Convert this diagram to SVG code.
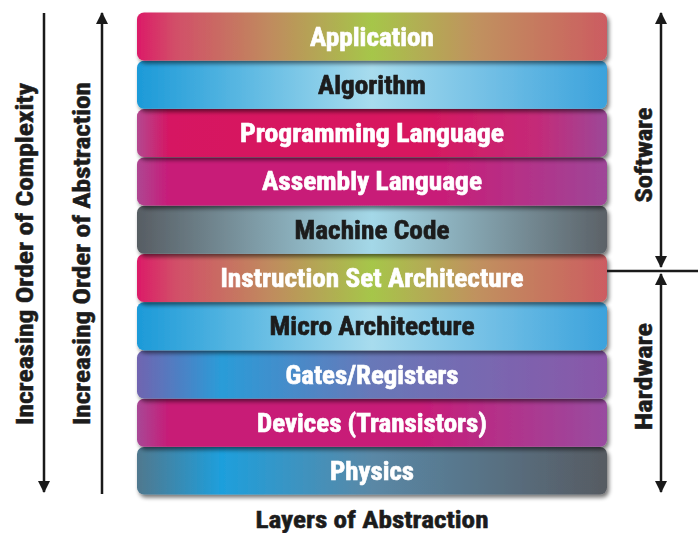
<svg xmlns="http://www.w3.org/2000/svg" width="700" height="533" viewBox="0 0 700 533">
<defs>
<style>
.lbl{font-family:"Liberation Sans Narrow","Roboto Condensed","Liberation Sans",Arial,sans-serif;font-weight:bold;font-size:25px;text-anchor:middle;stroke-width:0.6}
.w{fill:#ffffff;stroke:#ffffff}
.k{fill:#1c1c1c;stroke:#1c1c1c}
.side{font-family:"Liberation Sans Narrow","Roboto Condensed","Liberation Sans",Arial,sans-serif;font-weight:bold;font-size:23px;fill:#1c1c1c;stroke:#1c1c1c;stroke-width:0.5;text-anchor:middle}
.ln{stroke:#1a1a1a;stroke-width:2.5;fill:none}
.box{filter:url(#sh)}
</style>
<filter id="sh" x="-5%" y="-20%" width="110%" height="150%">
<feGaussianBlur in="SourceAlpha" stdDeviation="2.2"/>
<feOffset dx="2" dy="2.5" result="b"/>
<feComponentTransfer><feFuncA type="linear" slope="0.55"/></feComponentTransfer>
<feMerge><feMergeNode/><feMergeNode in="SourceGraphic"/></feMerge>
</filter>
<marker id="ah" markerUnits="userSpaceOnUse" markerWidth="12" markerHeight="14" refX="11" refY="6" orient="auto-start-reverse" viewBox="0 0 12 12">
<path d="M0,0 L12,6 L0,12 Z" fill="#1a1a1a"/>
</marker>
<linearGradient id="gApp" x1="0" y1="0" x2="1" y2="0">
<stop offset="0" stop-color="#dc1a68"/>
<stop offset="0.08" stop-color="#d24e68"/>
<stop offset="0.28" stop-color="#c08a5e"/>
<stop offset="0.5" stop-color="#a6c64a"/>
<stop offset="0.72" stop-color="#c0925e"/>
<stop offset="0.9" stop-color="#c8705f"/>
<stop offset="1" stop-color="#cc5c62"/>
</linearGradient>
<linearGradient id="gAlg" x1="0" y1="0" x2="1" y2="0">
<stop offset="0" stop-color="#1c9ad8"/>
<stop offset="0.5" stop-color="#a8dcee"/>
<stop offset="1" stop-color="#3ba2dc"/>
</linearGradient>
<linearGradient id="gMac" x1="0" y1="0" x2="1" y2="0">
<stop offset="0" stop-color="#575d63"/>
<stop offset="0.5" stop-color="#a4d8e8"/>
<stop offset="1" stop-color="#5b6167"/>
</linearGradient>
<linearGradient id="gPro" x1="0" y1="0" x2="1" y2="0">
<stop offset="0" stop-color="#b44890"/>
<stop offset="0.07" stop-color="#d61462"/>
<stop offset="0.6" stop-color="#d8165e"/>
<stop offset="0.85" stop-color="#c42a78"/>
<stop offset="1" stop-color="#9c4898"/>
</linearGradient>
<linearGradient id="gAsm" x1="0" y1="0" x2="1" y2="0">
<stop offset="0" stop-color="#ae4692"/>
<stop offset="0.07" stop-color="#c81a78"/>
<stop offset="0.65" stop-color="#c81e78"/>
<stop offset="1" stop-color="#9e4698"/>
</linearGradient>
<linearGradient id="gDev" x1="0" y1="0" x2="1" y2="0">
<stop offset="0" stop-color="#a84896"/>
<stop offset="0.07" stop-color="#c81a76"/>
<stop offset="0.6" stop-color="#c81c78"/>
<stop offset="1" stop-color="#984ca0"/>
</linearGradient>
<linearGradient id="gGat" x1="0" y1="0" x2="1" y2="0">
<stop offset="0" stop-color="#7064b0"/>
<stop offset="0.18" stop-color="#2a9cd8"/>
<stop offset="0.5" stop-color="#6878b8"/>
<stop offset="1" stop-color="#8a56a8"/>
</linearGradient>
<linearGradient id="gPhy" x1="0" y1="0" x2="1" y2="0">
<stop offset="0" stop-color="#50788e"/>
<stop offset="0.18" stop-color="#1e9fdc"/>
<stop offset="0.5" stop-color="#5a88a6"/>
<stop offset="1" stop-color="#575b62"/>
</linearGradient>
</defs>
<rect width="700" height="533" fill="#ffffff"/>

<g id="layer-physics" class="box"><rect x="137" y="447" width="470" height="47.5" rx="7" fill="url(#gPhy)"/><text class="lbl w" x="372" y="479.5" textLength="84" lengthAdjust="spacingAndGlyphs">Physics</text></g>
<g id="layer-devices" class="box"><rect x="137" y="398.8" width="470" height="48" rx="7" fill="url(#gDev)"/><text class="lbl w" x="372" y="431.5" textLength="230" lengthAdjust="spacingAndGlyphs">Devices (Transistors)</text></g>
<g id="layer-gates" class="box"><rect x="137" y="350.6" width="470" height="48" rx="7" fill="url(#gGat)"/><text class="lbl w" x="372" y="383.5" textLength="173" lengthAdjust="spacingAndGlyphs">Gates/Registers</text></g>
<g id="layer-micro" class="box"><rect x="137" y="302.3" width="470" height="48" rx="7" fill="url(#gAlg)"/><text class="lbl k" x="372" y="335" textLength="205" lengthAdjust="spacingAndGlyphs">Micro Architecture</text></g>
<g id="layer-isa" class="box"><rect x="137" y="254" width="470" height="48" rx="7" fill="url(#gApp)"/><text class="lbl w" x="372" y="287" textLength="303" lengthAdjust="spacingAndGlyphs">Instruction Set Architecture</text></g>
<g id="layer-machine" class="box"><rect x="137" y="205.7" width="470" height="48" rx="7" fill="url(#gMac)"/><text class="lbl k" x="372" y="238.5" textLength="155" lengthAdjust="spacingAndGlyphs">Machine Code</text></g>
<g id="layer-assembly" class="box"><rect x="137" y="157.4" width="470" height="48" rx="7" fill="url(#gAsm)"/><text class="lbl w" x="372" y="190" textLength="220" lengthAdjust="spacingAndGlyphs">Assembly Language</text></g>
<g id="layer-programming" class="box"><rect x="137" y="109.1" width="470" height="48" rx="7" fill="url(#gPro)"/><text class="lbl w" x="372" y="142" textLength="264" lengthAdjust="spacingAndGlyphs">Programming Language</text></g>
<g id="layer-algorithm" class="box"><rect x="137" y="60.8" width="470" height="48" rx="7" fill="url(#gAlg)"/><text class="lbl k" x="372" y="93.5" textLength="108" lengthAdjust="spacingAndGlyphs">Algorithm</text></g>
<g id="layer-application" class="box"><rect x="137" y="12.5" width="470" height="48" rx="7" fill="url(#gApp)"/><text class="lbl w" x="372" y="45.5" textLength="124" lengthAdjust="spacingAndGlyphs">Application</text></g>

<g id="connectors">
<line class="ln" x1="44" y1="13" x2="44" y2="492" marker-end="url(#ah)"/>
<line class="ln" x1="102" y1="494" x2="102" y2="13" marker-end="url(#ah)"/>
<line class="ln" x1="661" y1="13" x2="661" y2="267" marker-start="url(#ah)" marker-end="url(#ah)"/>
<line class="ln" x1="607" y1="271" x2="698" y2="271"/>
<line class="ln" x1="661" y1="274" x2="661" y2="492" marker-start="url(#ah)" marker-end="url(#ah)"/>
</g>

<g id="labels">
<text class="side" transform="translate(32.5,254) rotate(-90)" textLength="342" lengthAdjust="spacingAndGlyphs">Increasing Order of Complexity</text>
<text class="side" transform="translate(89.5,253.5) rotate(-90)" textLength="343" lengthAdjust="spacingAndGlyphs">Increasing Order of Abstraction</text>
<text class="side" transform="translate(651.5,155) rotate(-90)" textLength="95" lengthAdjust="spacingAndGlyphs">Software</text>
<text class="side" transform="translate(651.5,376.5) rotate(-90)" textLength="107" lengthAdjust="spacingAndGlyphs">Hardware</text>
<text class="side" x="372" y="528" font-size="24" textLength="233" lengthAdjust="spacingAndGlyphs">Layers of Abstraction</text>
</g>
</svg>
